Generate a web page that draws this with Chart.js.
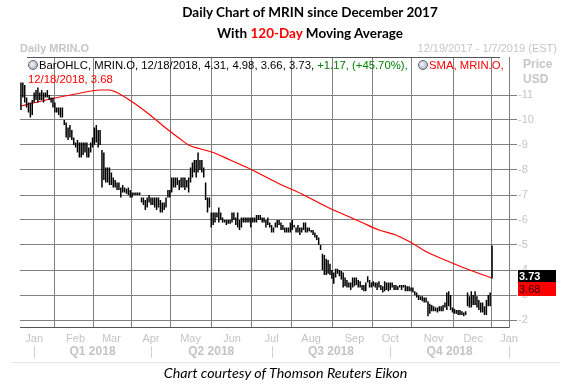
<!DOCTYPE html>
<html>
<head>
<meta charset="utf-8">
<script src="https://cdn.jsdelivr.net/npm/chart.js@4.4.1/dist/chart.umd.min.js"></script>
<style>
  body { margin:0; background:#fff; }
  #wrap { position:relative; width:571px; height:388px; background:#fff; overflow:hidden; }
  #c { position:absolute; left:0; top:0; }
  .t { position:absolute; white-space:nowrap; }
  .title { left:60px; width:500px; text-align:center; font:bold 13.5px Lato, sans-serif; color:#000; line-height:20px; }
  .grey { color:#c6c6c6; font:bold 11px "Liberation Sans", sans-serif; line-height:14px; }
  .leg { font:11.3px "Liberation Sans", sans-serif; line-height:13px; color:#000; }
  .clock { position:absolute; width:8px; height:8px; border-radius:50%; border:1px solid #5a6070; background:radial-gradient(circle at 40% 40%, #f4f6fa, #98a2b4); }
</style>
</head>
<body>
<div id="wrap">
  <canvas id="c" width="571" height="388"></canvas>
  <div class="t title" style="top:2px">Daily Chart of MRIN since December 2017</div>
  <div class="t title" style="top:23px">With <span style="color:#ff0000">120-Day</span> Moving Average</div>
  <div class="t grey" style="left:20px;top:41px">Daily MRIN.O</div>
  <div class="t grey" style="right:14px;top:41px;font-weight:normal">12/19/2017 - 1/7/2019 (EST)</div>
  <div class="t" style="left:27px;top:57px;width:473px;height:1px;background:#555"></div>
  <div class="clock" style="left:28px;top:60px"></div>
  <div class="t leg" style="left:39px;top:59px">BarOHLC, MRIN.O, 12/18/2018, 4.31, 4.98, 3.66, 3.73, <span style="color:#008000">+1.17, (+45.70%),</span></div>
  <div class="clock" style="left:418px;top:60px"></div>
  <div class="t leg" style="left:429px;top:59px;color:#ff0000">SMA, MRIN.O,</div>
  <div class="t leg" style="left:28px;top:73px;color:#ff0000">12/18/2018, 3.68</div>
  <div class="t grey" style="left:523px;top:57px;font-size:12px">Price</div>
  <div class="t grey" style="left:523px;top:72px;font-size:12px">USD</div>
  <div class="t" style="left:11px;top:362px;width:549px;height:1px;background:#e6e6e6"></div>
  <div class="t" style="left:0;width:571px;top:364px;text-align:center;font:italic 14.3px Lato, sans-serif;line-height:18px;color:#000">Chart courtesy of Thomson Reuters Eikon</div>
</div>
<script>
// trading days since 12/19/2017 (index 0) to 12/18/2018 (index 250)
const high = [
  11.5,11.5,11.4,10.9,10.7,10.7,10.8,11.1,11.2,11.3,
  11.1,11.2,11.1,11.1,11.2,11.0,10.9,10.9,10.7,10.5,
  10.5,10.5,10.5,10.0,9.9,9.7,9.8,9.6,9.3,9.1,
  9.2,9.1,9.1,9.1,9.1,9.1,8.9,9.1,9.3,9.7,
  9.8,9.6,9.6,8.8,8.7,8.1,8.1,8.1,7.9,7.7,
  7.6,7.5,7.5,7.3,7.4,7.3,7.25,7.3,7.2,7.1,
  7.1,7.1,7.1,7.1,6.9,6.9,6.8,6.9,7.0,6.9,
  6.9,6.9,6.9,6.9,6.8,6.7,6.7,6.9,7.2,7.2,
  7.7,7.7,7.7,7.7,7.6,7.7,7.7,7.7,7.6,7.7,
  8.1,8.3,8.4,8.4,8.7,8.4,8.4,8.1,7.5,6.9,
  6.9,6.3,6.3,6.3,6.3,6.5,6.3,6.1,6.0,6.0,
  6.0,6.0,6.3,6.3,6.1,6.3,6.0,6.1,6.1,6.1,
  6.1,6.1,6.1,6.1,6.1,6.2,6.2,6.2,6.1,6.1,
  6.0,6.1,5.9,5.8,5.7,5.9,6.0,6.0,5.9,5.8,
  5.7,5.7,5.7,5.9,6.0,5.8,5.7,5.8,5.7,5.7,
  5.9,5.9,5.7,5.7,5.6,5.6,5.5,5.4,5.3,5.0,
  4.65,4.6,4.45,4.4,4.25,4.0,3.9,4.05,4.05,4.0,
  3.96,3.9,3.7,3.6,3.5,3.5,3.7,3.7,3.7,3.6,
  3.55,3.4,3.4,3.5,3.75,3.6,3.5,3.55,3.5,3.5,
  3.55,3.4,3.35,3.55,3.5,3.5,3.5,3.5,3.4,3.4,
  3.35,3.4,3.4,3.4,3.4,3.35,3.35,3.3,3.3,3.15,
  3.1,3.0,2.95,2.95,2.9,2.9,2.75,2.65,2.6,2.55,
  2.5,2.5,2.55,2.55,2.6,2.7,3.1,3.15,3.0,2.5,
  2.45,2.4,2.4,2.4,2.35,2.3,2.35,3.1,2.95,3.15,
  3.0,3.15,2.95,2.8,2.7,2.7,2.55,2.8,3.0,3.1,
  4.98
];
const low = [
  10.4,10.9,10.7,10.5,10.3,10.1,10.2,10.7,10.8,10.7,
  10.8,10.8,10.7,10.9,10.9,10.8,10.7,10.5,10.3,10.3,
  10.2,10.1,10.1,9.8,9.3,9.2,9.3,9.2,9.0,8.9,
  8.7,8.5,8.5,8.6,8.7,8.5,8.5,8.7,8.9,9.0,
  9.1,8.9,9.0,7.3,7.6,7.5,7.5,7.4,7.4,7.3,
  7.3,7.2,7.2,6.9,7.1,7.1,7.05,7.0,6.9,6.9,
  7.0,7.0,7.0,7.0,6.7,6.6,6.4,6.5,6.7,6.6,
  6.6,6.5,6.4,6.5,6.3,6.3,6.4,6.5,6.9,6.9,
  7.1,7.3,7.3,7.4,7.2,7.3,7.3,7.2,7.3,7.1,
  7.5,7.7,7.9,7.7,7.9,8.0,7.9,7.7,6.8,6.3,
  6.5,5.7,5.8,5.9,6.1,5.9,6.0,5.9,5.9,5.8,
  5.85,5.85,5.9,6.0,5.8,5.7,5.6,5.7,5.9,5.9,
  5.9,5.9,5.7,5.9,5.9,5.9,6.0,6.0,5.9,5.9,
  5.7,5.8,5.7,5.5,5.5,5.7,5.7,5.8,5.6,5.6,
  5.5,5.5,5.5,5.5,5.6,5.7,5.5,5.5,5.4,5.5,
  5.6,5.5,5.5,5.55,5.5,5.4,5.3,5.2,5.0,4.8,
  4.0,3.8,3.8,3.85,3.8,3.65,3.45,3.7,3.85,3.75,
  3.62,3.3,3.35,3.3,3.3,3.2,3.3,3.35,3.4,3.3,
  3.3,3.2,3.15,3.15,3.5,3.3,3.3,3.35,3.3,3.2,
  3.3,3.2,3.1,3.15,3.2,3.15,3.2,3.3,3.2,3.2,
  3.2,3.3,3.2,3.3,3.15,3.15,3.15,3.15,3.1,3.0,
  2.9,2.8,2.8,2.75,2.7,2.7,2.15,2.25,2.35,2.35,
  2.35,2.3,2.35,2.35,2.35,2.5,2.4,2.55,2.4,2.3,
  2.25,2.25,2.2,2.2,2.2,2.15,2.2,2.55,2.5,2.5,
  2.6,2.6,2.5,2.4,2.3,2.3,2.2,2.2,2.55,2.55,
  3.66
];

// 120-day SMA read at some trading days
const smaDay = [0,6,15,29,42,47,50,59,68,77,84,89,95,102,111,120,128,137,146,154,163,172,181,190,199,207,216,225,234,241,250];
const smaVal = [10.56,10.67,10.83,11.04,11.2,11.2,11.13,10.73,10.23,9.67,9.27,9.0,8.85,8.7,8.4,8.1,7.8,7.45,7.15,6.85,6.5,6.2,5.9,5.6,5.4,5.1,4.7,4.4,4.12,3.92,3.68];

const lastClose = 3.73;
const lastSma = 3.68;

const monthDays = [7,29,48,69,90,112,133,154,177,196,219,240,259];
const monthNames = ['Jan','Feb','Mar','Apr','May','Jun','Jul','Aug','Sep','Oct','Nov','Dec','Jan'];
const quarterEdges = [7,69,133,196,259];
const quarterNames = ['Q1 2018','Q2 2018','Q3 2018','Q4 2018'];
const yTicks = [2,3,4,5,6,7,8,9,10,11];

const lbl = '#c4c4c4';
const gridCol = '#808080';

// quarter row under the month labels + last value tags on the price axis
const extras = {
    id:'extras',
    afterDraw(chart){
        const ctx = chart.ctx;
        const xs = chart.scales.x, ys = chart.scales.y;
        ctx.save();
        ctx.strokeStyle = '#d2d2d2';
        ctx.lineWidth = 1;
        quarterEdges.forEach(v=>{
            const px = Math.round(xs.getPixelForValue(v)) + 0.5;
            ctx.beginPath();
            ctx.moveTo(px,346);
            ctx.lineTo(px,358);
            ctx.stroke();
        });
        ctx.font = 'bold 12px "Liberation Sans"';
        ctx.fillStyle = lbl;
        ctx.textAlign = 'center';
        ctx.textBaseline = 'middle';
        quarterNames.forEach((q,i)=>{
            const mid = (quarterEdges[i] + quarterEdges[i+1]) / 2;
            ctx.fillText(q, xs.getPixelForValue(mid), 352);
        });
        ctx.textAlign = 'left';
        const top = Math.round(ys.getPixelForValue(lastClose) - 6.5);
        ctx.fillStyle = '#000';
        ctx.fillRect(518,top,38,12);
        ctx.fillStyle = '#ff0000';
        ctx.fillRect(518,top+12,38,14);
        ctx.font = 'bold 11px "Liberation Sans"';
        ctx.fillStyle = '#fff';
        ctx.fillText(lastClose.toFixed(2),519,top+6.5);
        ctx.font = '11px "Liberation Sans"';
        ctx.fillStyle = '#300';
        ctx.fillText(lastSma.toFixed(2),519,top+19.5);
        ctx.restore();
    }
};

const conf = {
    type:'bar',
    data:{
        datasets:[
            {
                type:'bar',
                label:'MRIN.O',
                data:high.map((h,i)=>({x:i, y:[low[i], h]})),
                backgroundColor:'#000',
                barThickness:1.5,
                inflateAmount:0,
                grouped:false
            },
            {
                type:'line',
                label:'SMA',
                data:smaDay.map((d,i)=>({x:d, y:smaVal[i]})),
                borderColor:'#ff0000',
                borderWidth:1.2,
                pointRadius:0,
                cubicInterpolationMode:'monotone'
            }
        ]
    },
    options:{
        responsive:false,
        animation:false,
        layout:{padding:{top:57, left:20, right:0, bottom:0}},
        plugins:{
            legend:{display:false},
            title:{display:false},
            tooltip:{enabled:false}
        },
        scales:{
            x:{
                type:'linear',
                position:'bottom',
                min:-0.5,
                max:259,
                offset:false,
                grid:{color:gridCol, drawTicks:false},
                border:{display:true, color:'#555'},
                ticks:{
                    autoSkip:false, maxRotation:0, padding:5, color:lbl,
                    font:{family:'Liberation Sans', size:11},
                    callback:(v,i)=>monthNames[i]
                },
                afterBuildTicks:s=>{ s.ticks = monthDays.map(v=>({value:v})); },
                afterFit:s=>{ s.height = 61; }
            },
            y:{
                position:'right',
                min:1.72,
                max:12.52,
                grid:{color:gridCol, tickLength:8},
                border:{display:true, color:gridCol},
                ticks:{
                    padding:1, color:lbl,
                    font:{family:'Liberation Sans', size:11},
                    callback:v=>'-' + v
                },
                afterBuildTicks:s=>{ s.ticks = yTicks.map(v=>({value:v})); },
                afterFit:s=>{ s.width = 62; }
            }
        }
    },
    plugins:[extras]
};

new Chart(document.getElementById('c').getContext('2d'), conf);
</script>
</body>
</html>
